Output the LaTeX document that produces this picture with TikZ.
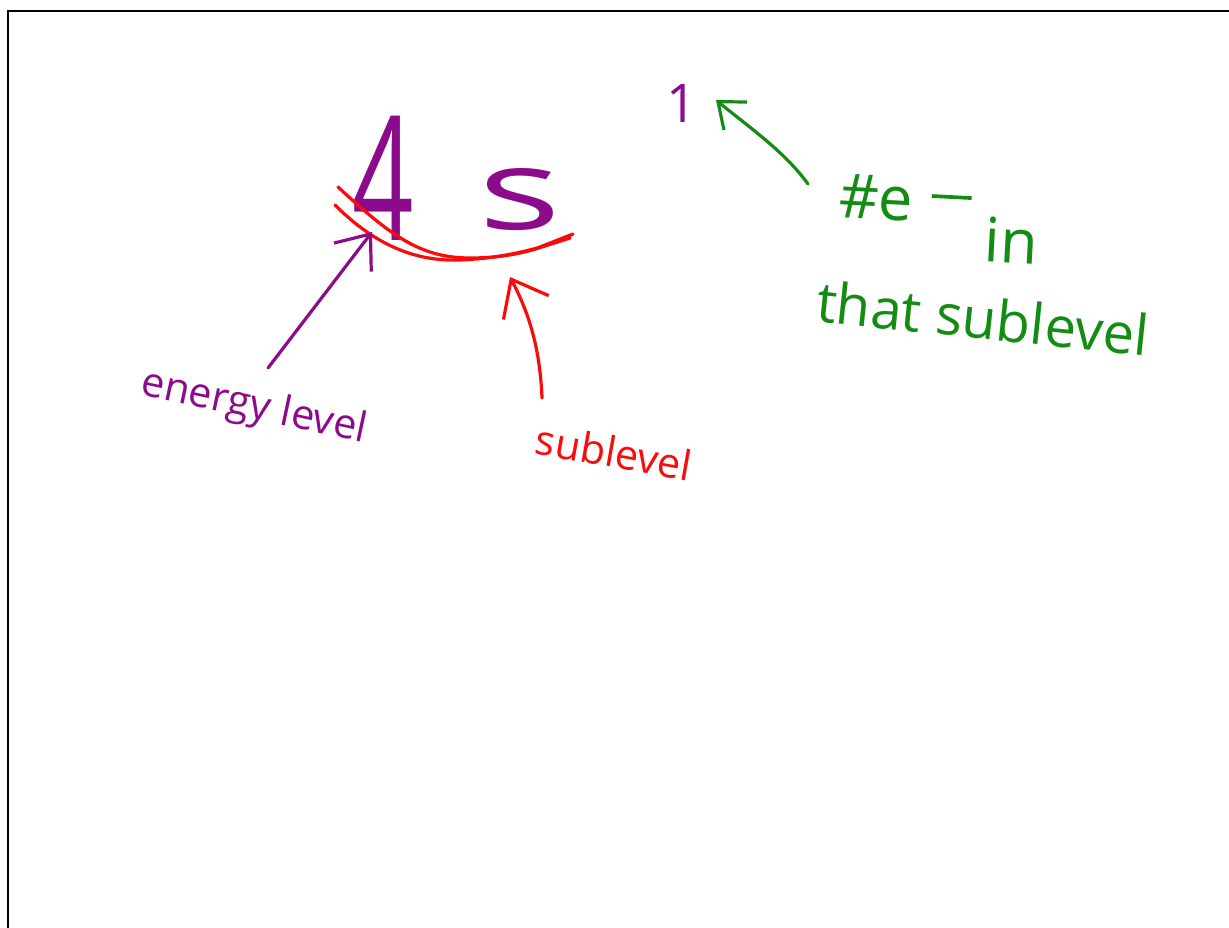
\documentclass[tikz,border=0pt]{standalone}
\usepackage{fontspec}
\setmainfont{Open Sans}
\usetikzlibrary{arrows.meta}
\definecolor{inkpurple}{RGB}{140,10,140}
\definecolor{inkred}{RGB}{250,10,10}
\definecolor{inkgreen}{RGB}{20,140,20}
\tikzset{
  ink/.style={line width=2.4pt,line cap=round,line join=round},
  hand/.style={inner sep=0pt,font=\fontsize{#1}{#1}\selectfont},
  barb/.style={-{Straight Barb[length=#1,width=1.6*#1]}}
}
\begin{document}
\begin{tikzpicture}[x=0.75pt,y=-0.75pt]
\useasboundingbox (0,0) rectangle (1229,928);
% page frame
\draw[line width=1.6pt] (1229,11) -- (8,11) -- (8,928);

% the orbital label "4s"
\node[hand=130,text=inkpurple,xscale=0.62] (four) at (383,178) {4};
\node[hand=84,text=inkpurple,xscale=1.55] (ess) at (520,200) {s};
% the "1" electron count
\node[hand=40,text=inkpurple] (one) at (682,103) {1};

% red underline strokes beneath the "s"
\draw[ink,inkred] (338,187) .. controls (390,235) and (420,258) .. (470,258)
  .. controls (520,258) and (550,245) .. (573,234) -- (540,247);
\draw[ink,inkred] (335,205) .. controls (370,240) and (410,262) .. (460,260)
  .. controls (510,258) and (545,246) .. (570,238);

% labels
\node[hand=31,text=inkpurple,rotate=-12] (energy) at (254,408) {energy level};
\node[hand=31,text=inkred,rotate=-10] (sub) at (614,452) {sublevel};
\node[hand=46,text=inkgreen,rotate=-3,anchor=west] (count) at (838,214)
  {\#e\hspace{0.3em}\raisebox{0.4em}{\rule{0.65em}{0.06em}}\hspace{0.25em}\raisebox{-0.6em}{in}};
\node[hand=42,text=inkgreen,rotate=-6] (that) at (983,318) {that sublevel};

% arrow ends
\coordinate (eTail) at (268,368);
\coordinate (eTip) at (372,232);
\coordinate (sTail) at (542,398);
\coordinate (sTip) at (510,277);
\coordinate (gTail) at (808,184);
\coordinate (gTip) at (716,100);

% arrows
\draw[ink,inkpurple,barb=22pt] (eTail) -- (eTip);
\draw[ink,inkred,barb=24pt] (sTail) .. controls (540,350) and (530,315) .. (sTip);
\draw[ink,inkgreen,barb=17pt] (gTail) .. controls (785,152) and (750,128) .. (gTip);
\end{tikzpicture}
\end{document}
